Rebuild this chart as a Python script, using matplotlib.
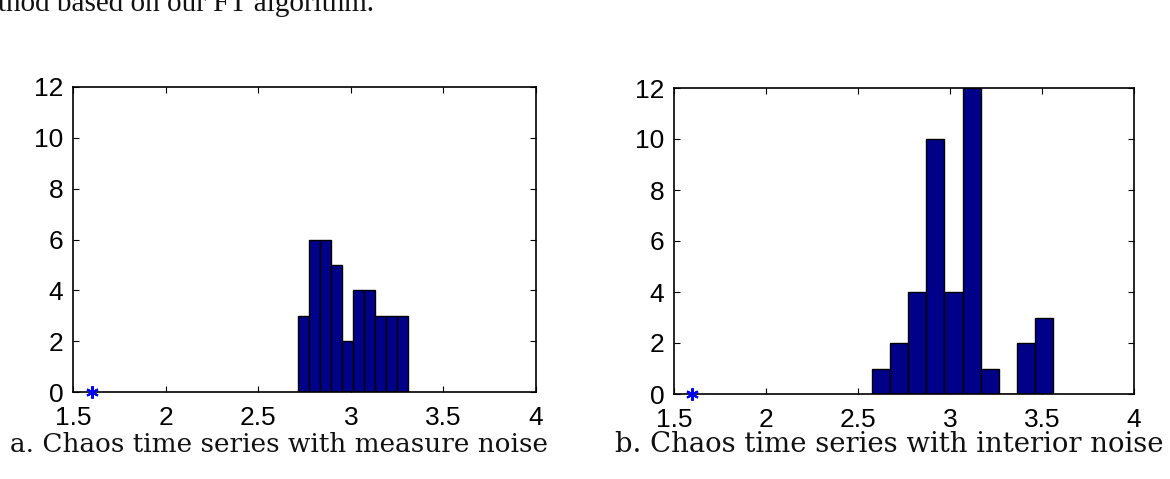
import matplotlib
matplotlib.use("Agg")
import matplotlib.pyplot as plt

# ---- data ----
left_centers = [2.746, 2.805, 2.864, 2.923, 2.982, 3.041, 3.100, 3.159, 3.218, 3.277]
left_counts = [3, 6, 6, 5, 2, 4, 4, 3, 3, 3]
left_width = 0.059

right_centers = [2.627, 2.725, 2.823, 2.921, 3.019, 3.117, 3.215, 3.313, 3.411, 3.509]
right_counts = [1, 2, 4, 10, 4, 12, 1, 0, 2, 3]
right_width = 0.098

star_x = [1.6]
star_y = [0]

xticks = [1.5, 2, 2.5, 3, 3.5, 4]
xticklabels = ["1.5", "2", "2.5", "3", "3.5", "4"]
yticks = [0, 2, 4, 6, 8, 10, 12]
yticklabels = ["0", "2", "4", "6", "8", "10", "12"]

captions = ["a. Chaos time series with measure noise",
            "b. Chaos time series with interior noise"]
top_text = "thod based on our FT algorithm."

W, H = 1170, 479
fig = plt.figure(figsize=(W / 100, H / 100), dpi=100)

def px_axes(x0, y0, x1, y1):
    return fig.add_axes([x0 / W, 1 - y1 / H, (x1 - x0) / W, (y1 - y0) / H])

axL = px_axes(73, 87, 536, 392)
axR = px_axes(674, 88, 1134, 394)

for ax, centers, counts, width in [(axL, left_centers, left_counts, left_width),
                                   (axR, right_centers, right_counts, right_width)]:
    ax.bar(centers, counts, width=width, color="#000088", edgecolor="black",
           linewidth=1.0, zorder=2)
    ax.plot(star_x, star_y, linestyle="none", marker=(6, 2, 0), color="#0000ff",
            markersize=9, markeredgewidth=1.5, clip_on=False, zorder=3)
    ax.set_xlim(1.5, 4)
    ax.set_ylim(0, 12)
    ax.set_xticks(xticks)
    ax.set_xticklabels(xticklabels)
    ax.set_yticks(yticks)
    ax.set_yticklabels(yticklabels)
    ax.tick_params(direction="in", length=4, width=0.8, top=True, right=True,
                   labelsize=19, colors="black")
    ax.tick_params(axis="x", pad=10)
    ax.tick_params(axis="y", pad=7)
    for lab in ax.get_xticklabels() + ax.get_yticklabels():
        lab.set_fontfamily("Liberation Sans")
    for sp in ax.spines.values():
        sp.set_linewidth(1.2)
        sp.set_color("black")

fig.text(279 / W, 1 - 445 / H, captions[0], ha="center", va="center",
         fontsize=18.9, family="DejaVu Serif", color="#111111")
fig.text(889 / W, 1 - 445 / H, captions[1], ha="center", va="center",
         fontsize=19.8, family="DejaVu Serif", color="#111111")
fig.text(-2 / W, 1 - 11 / H, top_text, ha="left", va="baseline",
         fontsize=21, family="Liberation Serif", color="#111111")

fig.savefig("out.png", dpi=100)
